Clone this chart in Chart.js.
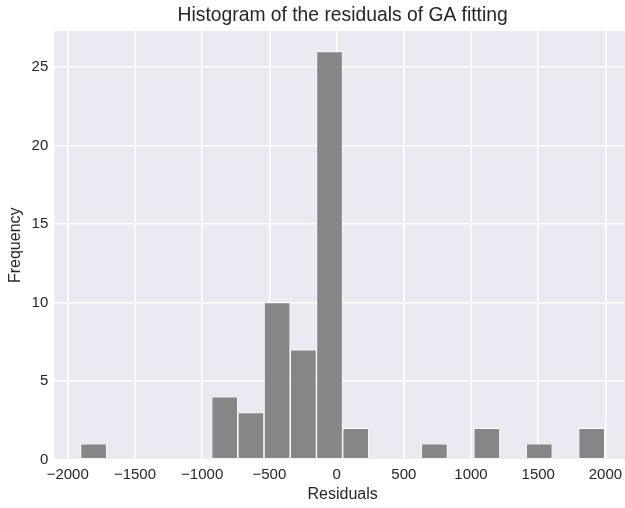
<!DOCTYPE html>
<html>
<head>
<meta charset="utf-8">
<script src="https://cdn.jsdelivr.net/npm/chart.js@4"></script>
<style>
  html, body { margin: 0; padding: 0; background: #ffffff; overflow: hidden; }
  #wrap { position: relative; width: 631px; height: 508px; }
</style>
</head>
<body>
<div id="wrap"><canvas id="hist" width="631" height="508"></canvas></div>
<script>
// Histogram bin edges (residual units) and the count in each bin
const binEdges = [-1905, -1710, -1515, -1320, -1125, -930, -735, -540, -345, -150,
                  45, 240, 435, 630, 825, 1020, 1215, 1410, 1605, 1800, 1995];
const counts = [1, 0, 0, 0, 0, 4, 3, 10, 7, 26, 2, 0, 0, 1, 0, 2, 0, 1, 0, 2];
const xTicks = [-2000, -1500, -1000, -500, 0, 500, 1000, 1500, 2000];
const yTicks = [0, 5, 10, 15, 20, 25];

const xRange = [-2100, 2190];
const yRange = [0, 27.3];

const points = counts.map((c, i) => ({ x: (binEdges[i] + binEdges[i + 1]) / 2, y: c }));

const ink = '#262626';
const font = 'Liberation Sans, Arial, sans-serif';

const plotBackground = {
  id: 'plotBackground',
  beforeDraw(chart) {
    const { ctx, chartArea: a } = chart;
    ctx.save();
    ctx.fillStyle = '#EAEAF2';
    ctx.fillRect(a.left, a.top, a.right - a.left, a.bottom - a.top);
    ctx.restore();
  }
};

const minus = v => String(v).replace('-', '\u2212');
const filled = ctx => !!(ctx.raw && ctx.raw.y);

new Chart(document.getElementById('hist'), {
  type: 'bar',
  data: {
    datasets: [{
      data: points,
      backgroundColor: ctx => (filled(ctx) ? '#868686' : 'rgba(0,0,0,0)'),
      borderColor: '#ffffff',
      borderWidth: ctx => (filled(ctx) ? 0.8 : 0),
      borderSkipped: false,
      inflateAmount: 0,
      barPercentage: 1,
      categoryPercentage: 1
    }]
  },
  options: {
    responsive: false,
    animation: false,
    devicePixelRatio: 1,
    layout: { padding: 0 },
    plugins: {
      legend: { display: false },
      tooltip: { enabled: false },
      title: {
        display: true,
        fullSize: false,
        text: 'Histogram of the residuals of GA fitting',
        color: ink,
        font: { family: font, size: 19.3, weight: 'normal' },
        padding: { top: 4, bottom: 3.8 }
      }
    },
    scales: {
      x: {
        type: 'linear',
        min: xRange[0],
        max: xRange[1],
        offset: false,
        afterBuildTicks: s => { s.ticks = xTicks.map(v => ({ value: v })); },
        afterFit: s => { s.height = 48.5; },
        border: { display: false },
        grid: { color: '#ffffff', lineWidth: 1.6, drawTicks: false, offset: false },
        ticks: {
          color: ink,
          padding: 6,
          maxRotation: 0,
          autoSkip: false,
          font: { family: font, size: 15 },
          callback: v => minus(v)
        },
        title: {
          display: true,
          text: 'Residuals',
          color: ink,
          font: { family: font, size: 16 },
          padding: { top: 0, bottom: 4 }
        }
      },
      y: {
        min: yRange[0],
        max: yRange[1],
        afterBuildTicks: s => { s.ticks = yTicks.map(v => ({ value: v })); },
        afterFit: s => { s.width = 54.3; },
        border: { display: false },
        grid: { color: '#ffffff', lineWidth: 1.6, drawTicks: false },
        ticks: {
          color: ink,
          padding: 6,
          font: { family: font, size: 15 }
        },
        title: {
          display: true,
          text: 'Frequency',
          color: ink,
          font: { family: font, size: 16 },
          padding: { top: 6.4, bottom: 0 }
        }
      }
    }
  },
  plugins: [plotBackground]
});
</script>
</body>
</html>
